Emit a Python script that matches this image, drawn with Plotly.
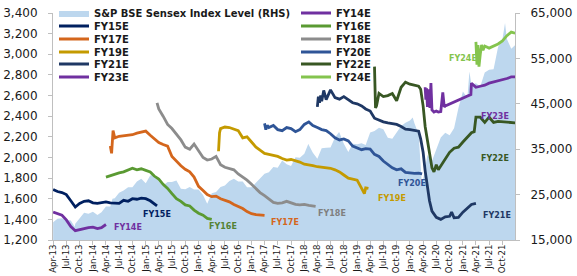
import plotly.graph_objects as go

# ---------------- data ----------------
sensex_dates = ["2013-04-01","2013-05-01","2013-06-01","2013-07-01","2013-08-01","2013-08-28","2013-09-01","2013-10-01","2013-11-01","2013-12-01",
 "2014-01-01","2014-02-01","2014-03-01","2014-04-01","2014-05-01","2014-05-16","2014-06-01","2014-07-01","2014-08-01","2014-09-01","2014-10-01","2014-11-01","2014-12-01",
 "2015-01-01","2015-02-01","2015-03-01","2015-04-01","2015-05-01","2015-06-01","2015-07-01","2015-08-01","2015-09-01","2015-10-01","2015-11-01","2015-12-01",
 "2016-01-01","2016-02-01","2016-03-01","2016-04-01","2016-05-01","2016-06-01","2016-07-01","2016-08-01","2016-09-01","2016-10-01","2016-11-01","2016-12-01",
 "2017-01-01","2017-02-01","2017-03-01","2017-04-01","2017-05-01","2017-06-01","2017-07-01","2017-08-01","2017-09-01","2017-10-01","2017-11-01","2017-12-01",
 "2018-01-01","2018-01-29","2018-02-01","2018-03-01","2018-04-01","2018-05-01","2018-06-01","2018-07-01","2018-08-01","2018-08-29","2018-09-01","2018-10-01","2018-11-01","2018-12-01",
 "2019-01-01","2019-02-01","2019-03-01","2019-04-01","2019-05-01","2019-06-01","2019-07-01","2019-08-01","2019-09-01","2019-10-01","2019-11-01","2019-12-01",
 "2020-01-01","2020-01-20","2020-02-01","2020-03-01","2020-03-23","2020-04-01","2020-05-01","2020-06-01","2020-07-01","2020-08-01","2020-09-01","2020-10-01","2020-11-01","2020-12-01",
 "2021-01-01","2021-02-01","2021-02-15","2021-03-01","2021-04-01","2021-05-01","2021-06-01","2021-07-01","2021-08-01","2021-09-01","2021-10-01","2021-10-19","2021-11-01","2021-12-01","2021-12-28"]
sensex_vals = [18900,19700,19800,19400,19300,17900,18600,19800,21000,20800,
 21200,20500,21100,22400,22400,24100,24200,25400,25900,26600,26600,27900,28500,
 27500,29200,29400,27900,27000,27800,27800,28100,26300,26200,26700,26100,
 26100,24900,23000,25300,25600,26700,27000,28000,28500,27900,27900,26600,
 26600,27700,28700,29600,29900,31100,30900,32500,31700,31300,33200,33100,
 34000,36200,35900,34200,32900,35200,35300,35400,37600,38800,38600,36200,34400,36200,
 36100,36300,35900,38700,39000,39700,39400,37500,37300,38700,40100,40800,
 41300,42000,40700,38300,27500,28300,33700,32400,35000,37600,38600,38100,39600,44100,
 47700,46300,52100,49100,49500,48800,51900,52500,52600,57500,59100,62800,59300,57100,57900]

fy14_dates = ["2013-04-01","2013-05-01","2013-06-01","2013-07-01","2013-08-01","2013-09-01","2013-10-01","2013-11-01","2013-12-01","2014-01-01","2014-02-01","2014-03-01","2014-04-01"]
fy14_vals = [1470,1455,1440,1395,1330,1290,1300,1315,1320,1325,1310,1320,1350]

fy15_dates = ["2013-04-01","2013-05-01","2013-06-01","2013-07-01","2013-08-01","2013-09-01","2013-10-01","2013-11-01","2013-12-01",
 "2014-01-01","2014-02-01","2014-03-01","2014-04-01","2014-05-01","2014-06-01","2014-07-01","2014-08-01","2014-09-01","2014-10-01","2014-11-01","2014-12-01",
 "2015-01-01","2015-02-01","2015-03-01","2015-03-20"]
fy15_vals = [1690,1670,1660,1640,1580,1520,1555,1575,1580,1560,1555,1565,1570,1560,1558,1555,1585,1575,1600,1595,1605,1600,1580,1545,1530]

fy16_dates = ["2014-04-01","2014-05-01","2014-06-01","2014-07-01","2014-08-01","2014-09-01","2014-10-01","2014-11-01","2014-12-01",
 "2015-01-01","2015-02-01","2015-03-01","2015-04-01","2015-05-01","2015-06-01","2015-07-01","2015-08-01","2015-09-01","2015-10-01","2015-11-01","2015-12-01",
 "2016-01-01","2016-02-01","2016-03-01","2016-04-01"]
fy16_vals = [1810,1825,1840,1850,1860,1880,1895,1880,1890,1875,1860,1820,1790,1740,1700,1650,1600,1575,1540,1530,1490,1460,1440,1410,1400]

fy17_dates = ["2014-05-01","2014-05-10","2014-05-20","2014-06-01","2014-07-01","2014-08-01","2014-09-01","2014-10-01","2014-11-01","2014-12-01",
 "2015-01-01","2015-02-01","2015-03-01","2015-04-01","2015-05-01","2015-06-01","2015-07-01","2015-08-01","2015-09-01","2015-10-01","2015-11-01","2015-12-01",
 "2016-01-01","2016-02-01","2016-03-01","2016-04-01","2016-05-01","2016-06-01","2016-07-01","2016-08-01","2016-09-01","2016-10-01","2016-11-01","2016-12-01",
 "2017-01-01","2017-02-01","2017-03-01","2017-04-01"]
fy17_vals = [2110,2040,2260,2190,2205,2210,2215,2220,2235,2245,2255,2215,2180,2145,2125,2110,2010,1960,1920,1885,1860,1810,
 1720,1680,1640,1620,1625,1600,1588,1570,1545,1525,1505,1475,1455,1445,1440,1438]

fy18_dates = ["2015-03-20","2015-04-01","2015-05-01","2015-06-01","2015-07-01","2015-08-01","2015-09-01","2015-10-01","2015-11-01","2015-12-01",
 "2016-01-01","2016-02-01","2016-03-01","2016-04-01","2016-05-01","2016-06-01","2016-07-01","2016-08-01","2016-09-01","2016-10-01","2016-11-01","2016-12-01",
 "2017-01-01","2017-02-01","2017-03-01","2017-04-01","2017-05-01","2017-06-01","2017-07-01","2017-08-01","2017-09-01","2017-10-01","2017-11-01","2017-12-01",
 "2018-01-01","2018-02-01","2018-03-01","2018-03-20"]
fy18_vals = [2530,2470,2400,2320,2280,2225,2170,2100,2080,2130,2060,2000,1975,1985,2010,1930,1905,1890,1880,1840,1810,1780,
 1740,1700,1660,1630,1595,1565,1555,1560,1575,1560,1545,1540,1545,1535,1530,1525]

fy19_dates = ["2016-05-18","2016-05-25","2016-06-01","2016-07-01","2016-08-01","2016-09-01","2016-10-01","2016-11-01","2016-12-01",
 "2017-01-01","2017-02-01","2017-03-01","2017-04-01","2017-05-01","2017-06-01","2017-07-01","2017-08-01","2017-09-01","2017-10-01","2017-11-01","2017-12-01",
 "2018-01-01","2018-02-01","2018-03-01","2018-04-01","2018-05-01","2018-06-01","2018-07-01","2018-08-01","2018-09-01","2018-10-01","2018-11-01","2018-12-01",
 "2019-01-01","2019-02-01","2019-02-20","2019-03-01","2019-03-20"]
fy19_vals = [2060,2240,2280,2295,2290,2275,2260,2190,2200,2150,2100,2070,2040,2030,2020,2010,1990,1975,1980,1970,1955,
 1935,1930,1920,1910,1905,1900,1895,1880,1860,1830,1800,1790,1780,1700,1650,1705,1700]

fy20_dates = ["2017-04-01","2017-04-10","2017-04-20","2017-05-01","2017-06-01","2017-07-01","2017-08-01","2017-09-01","2017-10-01","2017-11-01","2017-12-01",
 "2018-01-01","2018-02-01","2018-03-01","2018-04-01","2018-05-01","2018-06-01","2018-07-01","2018-08-01","2018-09-01","2018-10-01","2018-11-01","2018-12-01",
 "2019-01-01","2019-02-01","2019-03-01","2019-04-01","2019-05-01","2019-06-01","2019-07-01","2019-08-01","2019-09-01","2019-10-01","2019-11-01","2019-12-01",
 "2020-01-01","2020-02-01","2020-03-01","2020-03-25"]
fy20_vals = [2330,2270,2310,2290,2310,2270,2260,2290,2280,2250,2270,2320,2345,2310,2290,2270,2260,2230,2190,2170,2180,2160,2110,
 2090,2075,2085,2080,2030,2010,1965,1935,1900,1880,1890,1855,1850,1845,1848,1840]

fy21_dates = ["2018-04-01","2018-04-08","2018-04-16","2018-04-24","2018-05-01","2018-05-15","2018-06-01","2018-07-01","2018-08-01","2018-09-01","2018-10-01","2018-11-01","2018-12-01",
 "2019-01-01","2019-02-01","2019-03-01","2019-04-01","2019-05-01","2019-06-01","2019-07-01","2019-08-01","2019-09-01","2019-10-01","2019-11-01","2019-12-01",
 "2020-01-01","2020-02-01","2020-03-01","2020-03-15","2020-04-01","2020-04-15","2020-05-01","2020-05-15","2020-06-01","2020-07-01","2020-08-01","2020-09-01","2020-10-01","2020-10-15","2020-11-01","2020-12-01",
 "2021-01-01","2021-02-01","2021-03-01","2021-04-01"]
fy21_vals = [2490,2590,2530,2600,2545,2650,2560,2655,2580,2565,2590,2560,2530,2520,2500,2470,2450,2380,2360,2345,2335,2330,2320,2300,2275,
 2270,2265,2255,2180,2050,1870,1700,1580,1480,1420,1400,1425,1430,1470,1415,1420,1470,1510,1545,1556]

fy22_dates = ["2019-05-01","2019-05-08","2019-05-15","2019-06-01","2019-07-01","2019-08-01","2019-09-01","2019-10-01","2019-11-01","2019-12-01",
 "2020-01-01","2020-02-01","2020-03-01","2020-03-15","2020-04-01","2020-04-15","2020-05-01","2020-05-15","2020-06-01","2020-06-15","2020-07-01","2020-07-15","2020-08-01","2020-09-01","2020-10-01","2020-11-01","2020-12-01",
 "2021-01-01","2021-02-01","2021-03-01","2021-03-20","2021-04-01","2021-05-01","2021-06-01","2021-07-01","2021-08-01","2021-09-01","2021-10-01","2021-11-01","2021-12-01","2021-12-28"]
fy22_vals = [2880,2480,2500,2620,2590,2600,2620,2550,2680,2730,2710,2700,2690,2660,2500,2300,2150,2020,1900,1860,1930,1880,1920,1990,2050,2090,2100,
 2150,2200,2240,2250,2390,2390,2340,2390,2340,2350,2345,2340,2340,2335]

fy23_dates = ["2020-04-15","2020-04-20","2020-04-25","2020-05-01","2020-05-10","2020-05-18","2020-05-25","2020-06-01","2020-06-15","2020-07-01","2020-07-15","2020-08-01","2020-08-15","2020-08-25","2020-09-01","2020-10-01","2020-11-01","2020-12-01",
 "2021-01-01","2021-02-01","2021-02-25","2021-03-01","2021-04-01","2021-05-01","2021-06-01","2021-07-01","2021-08-01","2021-09-01","2021-10-01","2021-11-01","2021-12-01","2021-12-28"]
fy23_vals = [2680,2560,2670,2490,2660,2480,2720,2460,2440,2450,2440,2445,2630,2490,2500,2520,2540,2560,
 2580,2600,2610,2720,2680,2690,2700,2720,2730,2745,2755,2765,2780,2780]

fy24_dates = ["2021-04-01","2021-04-08","2021-04-15","2021-04-22","2021-05-01","2021-05-10","2021-05-20","2021-06-01","2021-07-01","2021-08-01","2021-09-01","2021-10-01","2021-11-01","2021-12-01","2021-12-28"]
fy24_vals = [3120,2900,3090,2880,3000,3090,3040,3080,3060,3080,3100,3130,3180,3215,3205]

series_names = ["FY14E","FY15E","FY16E","FY17E","FY18E","FY19E","FY20E","FY21E","FY22E","FY23E","FY24E"]
series_dates = [fy14_dates,fy15_dates,fy16_dates,fy17_dates,fy18_dates,fy19_dates,fy20_dates,fy21_dates,fy22_dates,fy23_dates,fy24_dates]
series_vals = [fy14_vals,fy15_vals,fy16_vals,fy17_vals,fy18_vals,fy19_vals,fy20_vals,fy21_vals,fy22_vals,fy23_vals,fy24_vals]
series_colors = ["#7030A0","#002060","#5A9A32","#D4661C","#8C8C8C","#C49A00","#2F5597","#1F3864","#385723","#7030A0","#84C44E"]

# ---------------- layout helpers (pixel geometry) ----------------
W, H = 577, 276
PL, PR, PT, PB = 53, 515, 13, 240

def px_x(px):
    return (px - PL) / (PR - PL)

def px_y(py):
    return (PB - py) / (PB - PT)

fig = go.Figure()

# legend slots: text-x px, row-y px
legend_pos = {"Sensex": (94, 13)}
col2 = ["FY14E","FY16E","FY18E","FY20E","FY22E","FY24E"]
col1 = ["FY15E","FY17E","FY19E","FY21E","FY23E"]
rows = [13, 26, 39, 52, 64, 77]
for i, n in enumerate(col2):
    legend_pos[n] = (336, rows[i])
for i, n in enumerate(col1):
    legend_pos[n] = (94, rows[i + 1])

order = ["Sensex"] + series_names
legend_ids = {n: ("legend" if i == 0 else f"legend{i+1}") for i, n in enumerate(order)}

fig.add_trace(go.Scatter(
    x=sensex_dates, y=sensex_vals, name="S&P BSE Sensex Index Level (RHS)",
    mode="lines", line=dict(width=0, color="#BDD7EE"), fill="tozeroy", fillcolor="#BDD7EE",
    yaxis="y", legend=legend_ids["Sensex"], hoverinfo="skip"))

for n, d, v, c in zip(series_names, series_dates, series_vals, series_colors):
    fig.add_trace(go.Scatter(x=d, y=v, name=n, mode="lines", line=dict(width=2.8, color=c),
                             yaxis="y2", legend=legend_ids[n]))

legend_font = dict(family="DejaVu Sans", size=10, color="#1a1a1a", weight="bold")
layout_legends = {}
for n in order:
    tx, ty = legend_pos[n]
    layout_legends[legend_ids[n]] = dict(
        x=px_x(tx - 40), y=px_y(ty), xanchor="left", yanchor="middle",
        bgcolor="rgba(0,0,0,0)", borderwidth=0, font=legend_font, itemwidth=30,
        orientation="v")

# in-chart labels: (text, center px x, center px y, color)
label_pos = [("FY14E",128,227,"#7030A0"),("FY15E",157,214,"#002060"),("FY16E",223,226,"#548235"),
             ("FY17E",285,222,"#D4661C"),("FY18E",332,213,"#7F7F7F"),("FY19E",392,198,"#C49A00"),
             ("FY20E",412,183,"#2F5597"),("FY21E",497,215,"#1F3864"),("FY22E",495,158,"#385723"),
             ("FY23E",495,116,"#7030A0"),("FY24E",463,58,"#84C44E")]
annotations = []
for t, lx, ly, c in label_pos:
    annotations.append(dict(text=t, x=px_x(lx), y=px_y(ly), xref="paper", yref="paper",
                            showarrow=False, xanchor="center", yanchor="middle",
                            font=dict(family="DejaVu Sans", size=8, color=c, weight="bold")))

axis_col = "#BFBFBF"
tick_font = dict(family="DejaVu Sans", size=12, color="#1a1a1a")
fig.update_layout(
    width=W, height=H, autosize=False,
    margin=dict(l=PL, r=W - PR, t=PT, b=H - PB, pad=0, autoexpand=False),
    paper_bgcolor="white", plot_bgcolor="white",
    showlegend=True,
    xaxis=dict(type="date", range=["2013-03-31", "2021-12-27"], tickformat="%b-%y", dtick="M3",
               tick0="2013-04-01", tickangle=-90, ticks="outside", ticklen=4, tickcolor=axis_col,
               showline=True, linecolor=axis_col, showgrid=False, zeroline=False, automargin=False,
               ticklabelstandoff=-4,
               tickfont=dict(family="DejaVu Sans", size=8.6, color="#1a1a1a")),
    yaxis=dict(side="right", range=[15000, 65000], tick0=15000, dtick=10000, tickformat=",", ticks="outside",
               ticklen=4, tickcolor=axis_col, showline=True, linecolor=axis_col, showgrid=False,
               zeroline=False, automargin=False, tickfont=tick_font, ticklabelstandoff=8),
    yaxis2=dict(overlaying="y", anchor="x", side="left", range=[1200, 3400], tick0=1200, dtick=200, tickformat=",",
                ticks="outside", ticklen=4, tickcolor=axis_col, showline=True, linecolor=axis_col,
                showgrid=False, zeroline=False, automargin=False, tickfont=tick_font, ticklabelstandoff=8),
    annotations=annotations,
    **layout_legends,
)

fig.write_html("out.html")
